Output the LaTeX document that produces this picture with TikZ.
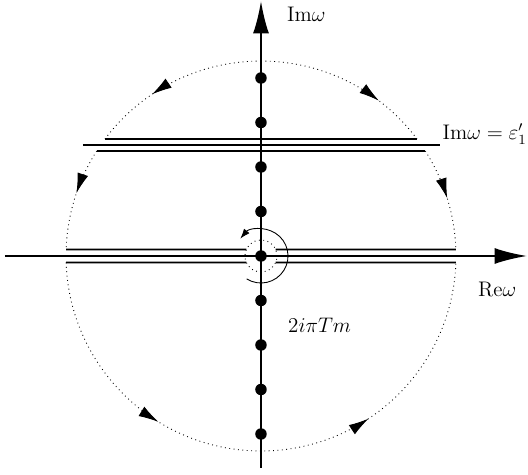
\documentclass[tikz,border=0pt]{standalone}
\usetikzlibrary{arrows.meta,decorations.markings}

\tikzset{
  axis/.style={line width=1.2pt, -{Latex[length=6.5mm,width=3.2mm]}},
  cutline/.style={line width=1pt},
  contour/.style={dotted, line width=0.5pt},
  pole/.style={circle, fill, inner sep=0pt, minimum size=2.3mm},
  midarrow/.style={postaction={decorate, decoration={markings,
      mark=at position #1 with {\arrow{Latex[length=4mm,width=2.2mm]}}}}},
}

\begin{document}
\begin{tikzpicture}[font=\large]

  \def\R{3.9}    % radius of the big contour
  \def\d{0.89}   % spacing of the poles
  \def\cy{2.22}  % height of the cut
  \def\e{0.12}   % gap between the cut and the contour
  \def\r{0.32}   % small circle round the origin

  \useasboundingbox (-5.22,-4.38) rectangle (5.34,5.12);

  % ----------------------------------------------------------------
  % axes
  % ----------------------------------------------------------------
  \coordinate (xl) at (-5.12,0);
  \coordinate (xr) at (5.32,0);
  \coordinate (yb) at (0,-4.24);
  \coordinate (yt) at (0,5.1);
  \draw[axis] (xl) -- (xr);
  \draw[axis] (yb) -- (yt);
  \node[anchor=west] (relbl) at (4.22,-0.68) {Re$\omega$};
  \node[anchor=west] (imlbl) at (0.4,4.84) {Im$\omega$};

  % poles on the imaginary axis
  \foreach \k in {-4,...,4} {
    \node[pole] (p\k) at (0,{\k*\d}) {};
  }
  \node[anchor=west] (mlbl) at (0.42,-1.38) {$2i\pi Tm$};

  % ----------------------------------------------------------------
  % the cut Im w = eps'_1 and the lines along it
  % ----------------------------------------------------------------
  \pgfmathsetmacro{\aU}{asin((\cy+\e)/\R)}
  \pgfmathsetmacro{\aL}{asin((\cy-\e)/\R)}
  \pgfmathsetmacro{\aA}{asin(0.13/\R)}
  \pgfmathsetmacro{\aB}{asin(0.13/\r)}

  \coordinate (cutl) at (-3.56,\cy);
  \coordinate (cutr) at (3.58,\cy);
  \draw[cutline] (cutl) -- (cutr)
    node[anchor=base west, inner sep=1pt, yshift=1.1mm] (cutlbl) {Im$\omega=\varepsilon'_1$};
  \draw[cutline] ({180-\aU}:\R) -- (\aU:\R);
  \draw[cutline] ({180-\aL}:\R) -- (\aL:\R);

  % lines along the real axis
  \draw[cutline] ({180-\aA}:\R) -- ({180-\aB}:\r);
  \draw[cutline] ({180+\aA}:\R) -- ({180+\aB}:\r);
  \draw[cutline] (\aB:\r) -- (\aA:\R);
  \draw[cutline] (-\aB:\r) -- (-\aA:\R);

  % ----------------------------------------------------------------
  % big contour
  % ----------------------------------------------------------------
  \draw[contour, midarrow=0.7] (90:\R) arc[start angle=90, end angle=\aU, radius=\R];
  \draw[contour, midarrow=0.64] (90:\R) arc[start angle=90, end angle={180-\aU}, radius=\R];
  \draw[contour, midarrow=0.45] ({180-\aL}:\R) arc[start angle={180-\aL}, end angle={180-\aA}, radius=\R];
  \draw[contour, midarrow=0.5] (\aL:\R) arc[start angle=\aL, end angle=\aA, radius=\R];
  \draw[contour, midarrow=0.32, midarrow=0.69] ({180+\aA}:\R)
    arc[start angle={180+\aA}, end angle={360-\aA}, radius=\R];

  % small circles round the origin
  \draw[contour] (0,0) circle[radius=\r];
  \draw[line width=0.5pt, -{Latex[length=2mm,width=1.4mm]}] (-122:0.54)
    arc[start angle=-122, end angle=140, radius=0.54];

\end{tikzpicture}
\end{document}
